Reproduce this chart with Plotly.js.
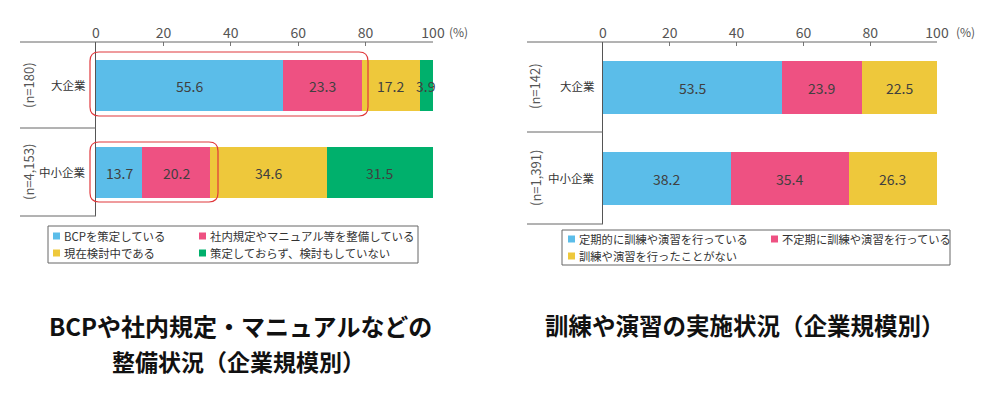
<!DOCTYPE html>
<html><head><meta charset="utf-8">
<script src="https://cdn.plot.ly/plotly-3.0.1.min.js"></script>
<style>html,body{margin:0;padding:0;background:#fff;}#chart{width:1000px;height:396px;}</style>
</head><body><div id="chart"></div>
<script>
// ---- data ----
const categories = ['大企業', '中小企業'];
const leftSampleSizes = ['(n=180)', '(n=4,153)'];
const rightSampleSizes = ['(n=142)', '(n=1,391)'];
const leftSeriesNames = ['BCPを策定している', '社内規定やマニュアル等を整備している', '現在検討中である', '策定しておらず、検討もしていない'];
const bcpPlanned = [55.6, 13.7];
const rulesPrepared = [23.3, 20.2];
const underReview = [17.2, 34.6];
const notPlanned = [3.9, 31.5];
const rightSeriesNames = ['定期的に訓練や演習を行っている', '不定期に訓練や演習を行っている', '訓練や演習を行ったことがない'];
const regularTraining = [53.5, 38.2];
const irregularTraining = [23.9, 35.4];
const neverTrained = [22.5, 26.3];
const tickValues = [0, 20, 40, 60, 80, 100];
const leftTitle = ['BCPや社内規定・マニュアルなどの', '整備状況（企業規模別）'];
const rightTitle = '訓練や演習の実施状況（企業規模別）';

// ---- styling ----
const FONT = 'Noto Sans CJK JP, sans-serif';
const colors = ['#5bbde9', '#ee5182', '#eec83b', '#00b06c'];
const W = 1000, H = 396;
const px = x => x / W;
const py = y => 1 - y / H;

function barTrace(name, values, color, xa, ya) {
  return {
    type: 'bar', orientation: 'h', name: name,
    y: categories, x: values,
    xaxis: xa, yaxis: ya,
    marker: {color: color, line: {width: 0}},
    width: 0.58, hoverinfo: 'skip', showlegend: false
  };
}

const leftSeries = [bcpPlanned, rulesPrepared, underReview, notPlanned];
const rightSeries = [regularTraining, irregularTraining, neverTrained];
const data = [];
leftSeries.forEach((s, i) => data.push(barTrace(leftSeriesNames[i], s, colors[i], 'x', 'y')));
rightSeries.forEach((s, i) => data.push(barTrace(rightSeriesNames[i], s, colors[i], 'x2', 'y2')));

function xAxis(d0, d1, anchor) {
  return {
    domain: [px(d0), px(d1)], range: [0, 100], side: 'top', anchor: anchor,
    tickvals: tickValues, ticktext: tickValues.map(String),
    ticks: 'inside', ticklen: 4, tickcolor: '#777', tickwidth: 1,
    showgrid: false, zeroline: false, showline: false, fixedrange: true,
    tickfont: {family: FONT, size: 14, color: '#555'}
  };
}
function yAxis(top, bottom, anchor) {
  return {
    domain: [py(bottom), py(top)], anchor: anchor, autorange: 'reversed',
    showticklabels: false, ticks: '', showgrid: false, zeroline: false,
    showline: true, linecolor: '#555', linewidth: 1, fixedrange: true
  };
}

function hline(x0, x1, y, col) {
  return {type: 'line', xref: 'paper', yref: 'paper', x0: px(x0), x1: px(x1), y0: py(y), y1: py(y), line: {color: col || '#666', width: 1}};
}
function roundRect(x0, y0, x1, y1, r, col, w) {
  const X = v => px(v), Y = v => py(v);
  const p = `M${X(x0 + r)},${Y(y0)} L${X(x1 - r)},${Y(y0)} Q${X(x1)},${Y(y0)} ${X(x1)},${Y(y0 + r)} ` +
    `L${X(x1)},${Y(y1 - r)} Q${X(x1)},${Y(y1)} ${X(x1 - r)},${Y(y1)} L${X(x0 + r)},${Y(y1)} ` +
    `Q${X(x0)},${Y(y1)} ${X(x0)},${Y(y1 - r)} L${X(x0)},${Y(y0 + r)} Q${X(x0)},${Y(y0)} ${X(x0 + r)},${Y(y0)} Z`;
  return {type: 'path', xref: 'paper', yref: 'paper', path: p, line: {color: col, width: w}};
}
function box(x0, y0, x1, y1) {
  return {type: 'rect', xref: 'paper', yref: 'paper', x0: px(x0), x1: px(x1), y0: py(y1), y1: py(y0), line: {color: '#666', width: 1}};
}
function sq(x, y, s, col) {
  return {type: 'rect', xref: 'paper', yref: 'paper', x0: px(x), x1: px(x + s), y0: py(y + s / 2), y1: py(y - s / 2), line: {width: 0}, fillcolor: col};
}
function txt(x, y, t, opts) {
  return Object.assign({xref: 'paper', yref: 'paper', x: px(x), y: py(y), text: t, showarrow: false,
    xanchor: 'left', yanchor: 'middle', font: {family: FONT, size: 11.4, color: '#333'}}, opts || {});
}

const shapes = [
  // left chart frame lines
  hline(20, 433, 42), hline(20, 96, 128), hline(20, 96, 216),
  // right chart frame lines
  hline(527, 937, 42), hline(527, 603, 132), hline(527, 603, 224),
  // highlight boxes
  roundRect(90, 52, 368, 116, 9, '#e0383c', 1.2),
  roundRect(90, 142, 218, 202, 9, '#e0383c', 1.2),
  // legend boxes
  box(48, 226, 418, 263),
  box(562, 230, 950, 265)
];

const annotations = [];
// value labels, centred on each stacked segment (data coordinates)
function valueLabels(seriesList, xref, yref) {
  categories.forEach((c, ci) => {
    let acc = 0;
    seriesList.forEach(s => {
      const v = s[ci];
      annotations.push({xref: xref, yref: yref, x: acc + v / 2, y: c, text: v.toFixed(1), showarrow: false,
        xanchor: 'center', yanchor: 'middle', font: {family: FONT, size: 14, color: '#404040'}});
      acc += v;
    });
  });
}
valueLabels(leftSeries, 'x', 'y');
valueLabels(rightSeries, 'x2', 'y2');

// category + sample labels
const leftRowY = [85, 172], rightRowY = [86, 178];
const catFont = {family: FONT, size: 11.5, color: '#333'};
const nFont = {family: FONT, size: 13, color: '#555'};
categories.forEach((c, i) => {
  annotations.push(txt(88, leftRowY[i], c, {xanchor: 'right', font: catFont}));
  annotations.push(txt(28, leftRowY[i], leftSampleSizes[i], {xanchor: 'center', textangle: -90, font: nFont}));
  annotations.push(txt(597, rightRowY[i], c, {xanchor: 'right', font: catFont}));
  annotations.push(txt(535, rightRowY[i], rightSampleSizes[i], {xanchor: 'center', textangle: -90, font: nFont}));
});
// (%) units
annotations.push(txt(447, 31, '(%)', {font: {family: FONT, size: 12, color: '#555'}}));
annotations.push(txt(954, 31, '(%)', {font: {family: FONT, size: 12, color: '#555'}}));

// legends
const leftLegendPos = [[53, 236], [199, 236], [53, 253], [199, 253]];
leftSeriesNames.forEach((n, i) => {
  const [x, y] = leftLegendPos[i];
  shapes.push(sq(x, y, 7, colors[i]));
  annotations.push(txt(x + 9, y, n));
});
const rightLegendPos = [[568, 239], [771, 239], [568, 256]];
rightSeriesNames.forEach((n, i) => {
  const [x, y] = rightLegendPos[i];
  shapes.push(sq(x, y, 7, colors[i]));
  annotations.push(txt(x + 9, y, n, {font: {family: FONT, size: 11.3, color: '#333'}}));
});

// titles
const titleFont = (s) => ({family: FONT, size: s, color: '#111', weight: 'bold'});
annotations.push(txt(240, 325, '<b>' + leftTitle[0] + '</b>', {xanchor: 'center', font: titleFont(24)}));
annotations.push(txt(238, 361, '<b>' + leftTitle[1] + '</b>', {xanchor: 'center', font: titleFont(23)}));
annotations.push(txt(745, 325, '<b>' + rightTitle + '</b>', {xanchor: 'center', font: titleFont(23.5)}));

const layout = {
  width: W, height: H, margin: {l: 0, r: 0, t: 0, b: 0},
  paper_bgcolor: '#fff', plot_bgcolor: 'rgba(0,0,0,0)',
  barmode: 'stack', bargap: 0.42, showlegend: false,
  xaxis: xAxis(96, 433, 'y'),
  yaxis: yAxis(42, 216, 'x'),
  xaxis2: xAxis(603, 937, 'y2'),
  yaxis2: yAxis(42, 224, 'x2'),
  shapes: shapes, annotations: annotations,
  font: {family: FONT}
};
Plotly.newPlot('chart', data, layout, {staticPlot: true, displayModeBar: false});
</script></body></html>
